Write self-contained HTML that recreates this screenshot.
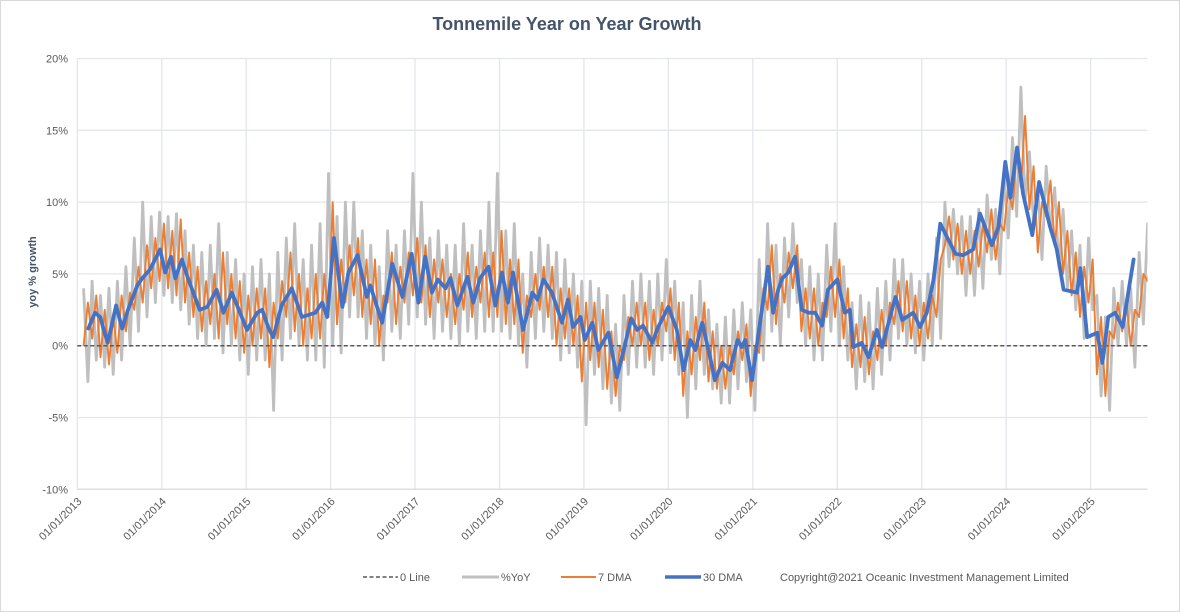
<!DOCTYPE html>
<html><head><meta charset="utf-8"><style>
html,body{margin:0;padding:0;background:#fff;}
svg{display:block;font-family:"Liberation Sans",sans-serif;}
</style></head><body>
<svg id="chart" width="1180" height="612" viewBox="0 0 1180 612">
<defs><clipPath id="plotclip"><rect x="77" y="40" width="1070.5" height="460"/></clipPath></defs>
<rect x="0.5" y="0.5" width="1179" height="611" fill="#fff" stroke="#d9d9d9"/>
<text x="567" y="30" text-anchor="middle" font-size="18" font-weight="bold" fill="#44546a">Tonnemile Year on Year Growth</text>
<text transform="translate(36,272) rotate(-90)" text-anchor="middle" font-size="11" font-weight="bold" fill="#44546a">yoy % growth</text>
<g id="grid"></g>
<g id="yticks"></g>
<g id="xticks"></g>
<g id="series" clip-path="url(#plotclip)"></g>
<g font-size="11" fill="#595959">
 <g><line x1="363" y1="577" x2="398" y2="577" stroke="#595959" stroke-width="1.5" stroke-dasharray="4,2.5"/><text x="400" y="581">0 Line</text></g>
 <g><line x1="462" y1="577" x2="499" y2="577" stroke="#bfbfbf" stroke-width="3"/><text x="501" y="581">%YoY</text></g>
 <g><line x1="561" y1="577" x2="596" y2="577" stroke="#ed7d31" stroke-width="2"/><text x="598" y="581">7 DMA</text></g>
 <g><line x1="665" y1="577" x2="701" y2="577" stroke="#4472c4" stroke-width="3.5"/><text x="703" y="581">30 DMA</text></g>
</g>
<text x="780" y="581" font-size="11" fill="#595959">Copyright@2021 Oceanic Investment Management Limited</text>
</svg>
<script>
const yTicks=[20,15,10,5,0,-5,-10];
const yearLabels=["01/01/2013","01/01/2014","01/01/2015","01/01/2016","01/01/2017","01/01/2018","01/01/2019","01/01/2020","01/01/2021","01/01/2022","01/01/2023","01/01/2024","01/01/2025"];
const yearValues=[2013,2014,2015,2016,2017,2018,2019,2020,2021,2022,2023,2024,2025];
// 30 DMA
const dmaDates=[2013.13,2013.21,2013.27,2013.36,2013.46,2013.53,2013.60,2013.71,2013.77,2013.86,2013.98,2014.04,2014.11,2014.16,2014.24,2014.31,2014.45,2014.54,2014.65,2014.73,2014.83,2014.90,2015.01,2015.13,2015.19,2015.26,2015.32,2015.42,2015.54,2015.66,2015.82,2015.90,2015.96,2016.04,2016.14,2016.21,2016.32,2016.43,2016.47,2016.61,2016.73,2016.85,2016.96,2017.04,2017.12,2017.20,2017.27,2017.36,2017.42,2017.50,2017.62,2017.69,2017.77,2017.87,2017.95,2018.03,2018.10,2018.16,2018.28,2018.39,2018.45,2018.52,2018.62,2018.74,2018.81,2018.87,2018.96,2019.01,2019.10,2019.17,2019.29,2019.39,2019.45,2019.56,2019.63,2019.70,2019.81,2019.88,2020.00,2020.10,2020.18,2020.26,2020.32,2020.40,2020.52,2020.55,2020.64,2020.73,2020.82,2020.87,2020.91,2020.99,2021.09,2021.18,2021.24,2021.30,2021.35,2021.42,2021.50,2021.58,2021.66,2021.74,2021.82,2021.89,2022.00,2022.09,2022.15,2022.19,2022.29,2022.37,2022.47,2022.53,2022.69,2022.77,2022.90,2022.98,2023.06,2023.14,2023.22,2023.28,2023.40,2023.49,2023.61,2023.69,2023.83,2023.91,2023.99,2024.05,2024.13,2024.20,2024.31,2024.39,2024.52,2024.60,2024.68,2024.84,2024.88,2024.96,2025.08,2025.14,2025.21,2025.29,2025.38,2025.51,2025.66];
const dmaValues=[1.2,2.3,2.0,0.2,2.8,1.2,2.5,4.2,4.7,5.3,6.7,5.1,6.2,4.7,6.0,4.7,2.5,2.7,3.9,2.3,3.7,2.7,1.1,2.3,2.5,1.3,0.6,2.8,4.0,2.0,2.3,3.0,2.0,7.5,2.7,5.1,6.3,3.4,4.2,1.6,5.7,3.4,6.4,3.0,6.2,3.7,4.6,4.0,4.7,2.8,4.8,3.0,4.7,5.5,2.8,5.1,3.0,5.1,1.1,3.7,3.2,4.6,3.7,1.6,3.2,1.3,2.0,0.4,1.6,-0.3,0.9,-2.2,-0.8,1.9,1.1,1.4,0.2,1.3,2.7,1.1,-1.7,0.4,-0.3,1.6,-1.5,-2.4,-1.2,-1.7,0.4,-0.1,0.4,-2.4,1.8,5.5,2.3,3.9,4.7,5.1,6.2,2.5,2.3,2.3,1.4,3.9,4.6,2.3,2.5,-0.1,0.2,-0.8,1.1,-0.1,3.4,1.8,2.3,1.3,2.3,4.6,8.5,7.8,6.4,6.3,6.7,9.2,7.0,8.3,12.8,10.3,13.8,10.6,7.7,11.4,8.3,6.7,3.9,3.7,5.4,0.6,0.9,-1.2,2.0,2.3,1.3,6.0];
// %YoY and 7 DMA range per 0.1-year bin
const binStart=2013.1;
const binStep=0.1;
const yoyHigh=[4,4.5,3.5,4,4.5,5.5,7.5,10,9,9.3,9,9.2,8,7,6.5,7,8.5,6.5,6,5,5.5,6,5,6.5,7.5,8.5,6,7,8.5,12,9,10,10,8,7,5.5,8,7,8,12,10,7.5,8,7,7,8.5,7,8,10,12,8,8.5,5,6.5,7.5,7,6.5,6,5,4.5,4.5,4,3.5,1.5,3.5,4.5,5,4.5,5,6,4.5,3,3.5,4.5,2.5,1.5,2,2.5,3,2.5,6,8.5,7,7.5,8.5,6,5.5,5,7,8.5,5.5,3,3.5,3,4,4.5,6,6,5,4.5,5,7.5,10,9.5,9,9,9.5,10.5,9.5,12,14.5,18,13.5,11,12.5,11,9.5,8,7,7.5,3.5,2,4,4.5,4,6.5,8.5];
const yoyLow=[-2.5,-1,-1.5,-2,-1,0,1,2,3,3.5,3,2.5,1.5,0.5,0,0.5,-0.5,0,-1,-2,-1,-1,-4.5,-1,0.5,0,-1,-1,-1.5,0,-0.5,2,2,0.5,0,-1,1,0.5,1.5,2,1.5,0.5,1,0.5,0,1,0.5,1,1,1,0.5,0,-1.5,0.5,1,0.5,-1,-0.5,-1.5,-5.5,-2,-3,-4,-4.5,-2,-1.5,-1.5,-2,-1,-0.5,-2,-5,-3,-2,-3,-4,-4,-3,-2.5,-4.5,-1,1,0,2,3,0,-1,-1,1,0,-1,-3,-2.5,-3,-2,-1,0.5,0,-0.5,-1,0,0.5,5.5,5,3.5,3.5,4,6,5,7.5,9,10,8.5,6,8,5.5,4,2.5,0.5,2.5,-3.5,-4.5,0,0,-1.5,1.5,4];
const sevenHigh=[3,3.5,2.5,2,3.5,3.7,5.5,7,7.5,8.5,8,8.8,6.5,5.5,4.5,5,6.5,5,4.5,3.5,4,4,3,4.5,6.5,5,4,5,5,10,6,7,7.5,6,6,3.5,6.5,5.5,6.5,7.5,7,6,6,5,5,6.5,5.5,6.5,6.5,8,6,6,3.5,5,5.5,5.5,4,4,3.5,3,3,2.5,1,0,2,3,3,2.5,3,4,3,1,2,3,1,0,0,1,1.5,0,4,7,5,6.5,7,4,4,3,5.5,6,4,1.5,2,1,2.5,3,4.5,4.5,3.5,3,3.5,6,9,8.5,8,8,8.5,9.5,8.5,11,13.5,16,12.5,10,11.5,10,8,6.5,5.5,6,2,1,3,3,2.5,5,7];
const sevenLow=[0,0.5,-0.8,-1.3,-0.5,1,2.5,3,4,4.5,4,3.5,3,2,1,1.5,0.5,1.5,0.5,-0.5,0,0.5,-1.5,0.5,2,1,0,0.5,0.5,2,1.5,3,3.5,2,1.5,0,3,1.5,3,3.5,3,2,3,2,1.5,2.5,2,3,2,2,1.5,1.5,-0.5,2,2.5,2,0,0.5,0,-2.5,-1,-1.5,-3,-3.5,-1,0,0,-1,0,1,-1,-3.5,-2,-1,-2.5,-3,-3,-2,-1,-3.5,-0.5,2.5,1.5,3,4,1,0.5,0,2,2,0.5,-1.5,-1.5,-2,-1,0,1.5,1,0.5,0,0.5,2,7,6,5,5,5.5,6.5,6,8,9.5,11,9.5,6.5,9,7,5,3.5,2,3,-2,-3.5,0.5,1,0,2,4.5];

const X0=77.3, PXY=84.44, Y0=345.7, PXV=14.36, XR=1147.5;
function xs(t){return X0+(t-2013)*PXY;}
function ys(v){return Y0-v*PXV;}
const NS="http://www.w3.org/2000/svg";
function mk(tag,attrs,parent){const e=document.createElementNS(NS,tag);for(const k in attrs)e.setAttribute(k,attrs[k]);parent.appendChild(e);return e;}

const grid=document.getElementById('grid');
const yt=document.getElementById('yticks');
yTicks.forEach(v=>{
  const l=mk('line',{x1:X0,x2:XR,y1:ys(v),y2:ys(v),stroke:'#e3e6ec','stroke-width':1.3},grid);
  
  
  const t=mk('text',{x:68,y:ys(v)+4,'text-anchor':'end','font-size':11,fill:'#595959'},yt);
  t.textContent=v+'%';
  
  
});
const xt=document.getElementById('xticks');
yearValues.forEach((y,i)=>{
  const gx=xs(y);
  const l=mk('line',{x1:gx,x2:gx,y1:ys(20),y2:ys(-10),stroke:'#e3e6ec','stroke-width':1.3},grid);
  
  
  const t=mk('text',{transform:'translate('+(gx+5)+',502) rotate(-45)','text-anchor':'end','font-size':11,fill:'#595959'},xt);
  t.textContent=yearLabels[i];
  
  
});
const ax=mk('line',{x1:X0,x2:XR,y1:ys(-10),y2:ys(-10),stroke:'#d9dde4','stroke-width':1.3},grid);



const sg=document.getElementById('series');
function band(hi,lo,flip){
  let pts=[];
  for(let i=0;i<hi.length;i++){
    const t=binStart+i*binStep;
    const a=flip?lo[i]:hi[i], b=flip?hi[i]:lo[i];
    pts.push(xs(t-binStep*0.25).toFixed(1)+','+ys(a).toFixed(1));
    pts.push(xs(t+binStep*0.25).toFixed(1)+','+ys(b).toFixed(1));
  }
  return pts.join(' ');
}
const g1=mk('polyline',{points:band(yoyHigh,yoyLow,false),fill:'none',stroke:'#bfbfbf','stroke-width':2.8,'stroke-linejoin':'round'},sg);


const o1=mk('polyline',{points:band(sevenHigh,sevenLow,true),fill:'none',stroke:'#ed7d31','stroke-width':1.9,'stroke-linejoin':'round'},sg);


const z=mk('line',{x1:X0,x2:XR,y1:ys(0),y2:ys(0),stroke:'#595959','stroke-width':1.5,'stroke-dasharray':'4,2.5'},sg);


const bp=dmaDates.map((d,i)=>xs(d).toFixed(1)+','+ys(dmaValues[i]).toFixed(1)).join(' ');
const b1=mk('polyline',{points:bp,fill:'none',stroke:'#4472c4','stroke-width':3.8,'stroke-linejoin':'round','stroke-linecap':'round'},sg);


</script>
</body></html>
